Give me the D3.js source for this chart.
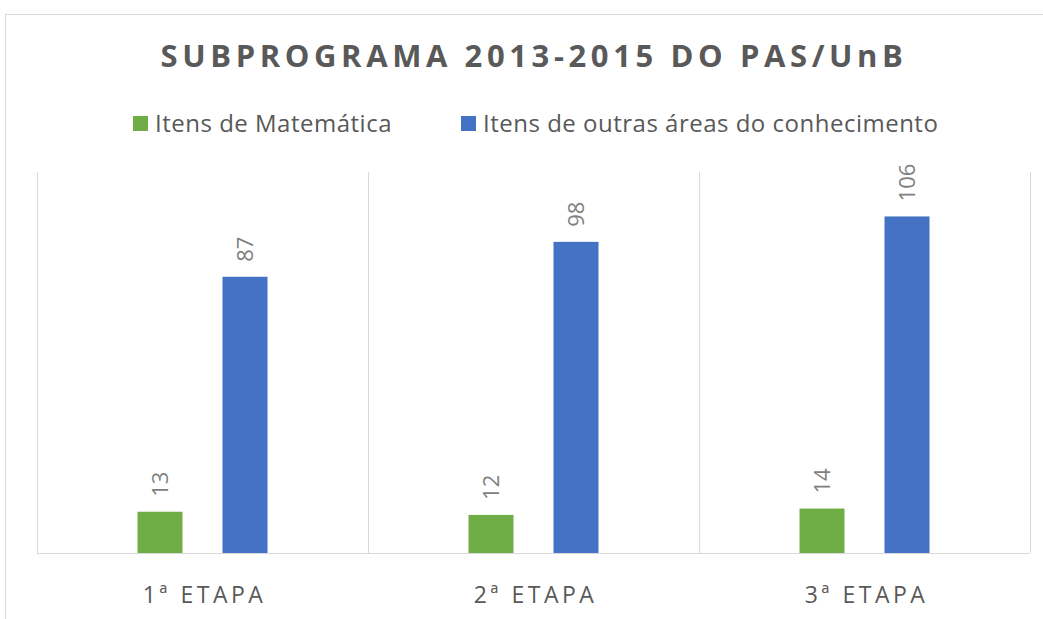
<!DOCTYPE html>
<html>
<head>
<meta charset="utf-8">
<script src="https://cdn.jsdelivr.net/npm/d3@7"></script>
<style>
  body { margin:0; background:#fff; }
  text { font-family: "Open Sans", "DejaVu Sans", sans-serif; }
</style>
</head>
<body>
<svg id="chart"></svg>
<script>
// data
var etapas = ["1ª ETAPA", "2ª ETAPA", "3ª ETAPA"]
var series = ["Itens de Matemática", "Itens de outras áreas do conhecimento"]
var matematica = [13, 12, 14]
var outras = [87, 98, 106]
var cores = ["#70ad47", "#4472c4"]
var titulo = "SUBPROGRAMA 2013-2015 DO PAS/UnB"

var screen = {width:1043, height:619}
var margins = {left:37, right:13, top:172, bottom:66}

var svg = d3.select("#chart")
    .attr("width", screen.width)
    .attr("height", screen.height)

// chart area border
svg.append("rect")
   .attr("x", 5.5).attr("y", 14.5)
   .attr("width", 1060).attr("height", 620)
   .attr("fill", "none")
   .attr("stroke", "#d9d9d9")

var xScale = d3.scaleBand()
    .domain(etapas)
    .range([margins.left, screen.width - margins.right])

var inner = d3.scaleBand()
    .domain(series)
    .range([xScale.bandwidth()/2 - 65, xScale.bandwidth()/2 + 65])
    .paddingInner(40/85)

var yScale = d3.scaleLinear()
    .domain([0, 120])
    .range([screen.height - margins.bottom, margins.top])

// vertical separators between categories
var bordas = etapas.map(function(e){ return xScale(e) })
bordas.push(xScale.range()[1])
svg.append("g")
   .selectAll("line")
   .data(bordas)
   .enter()
   .append("line")
   .attr("x1", function(d){ return Math.round(d) + 0.5 })
   .attr("x2", function(d){ return Math.round(d) + 0.5 })
   .attr("y1", yScale(120))
   .attr("y2", yScale(0))
   .attr("stroke", "#d9d9d9")

// bars
var dados = etapas.map(function(e, i) {
    return {etapa:e, valores:[
        {serie:series[0], valor:matematica[i], cor:cores[0]},
        {serie:series[1], valor:outras[i], cor:cores[1]}
    ]}
})

var grupos = svg.append("g")
   .selectAll("g")
   .data(dados)
   .enter()
   .append("g")
   .attr("transform", function(d){ return "translate(" + xScale(d.etapa) + ",0)" })

grupos.selectAll("rect")
   .data(function(d){ return d.valores })
   .enter()
   .append("rect")
   .attr("x", function(d){ return inner(d.serie) })
   .attr("width", inner.bandwidth())
   .attr("y", function(d){ return yScale(d.valor) })
   .attr("height", function(d){ return yScale(0) - yScale(d.valor) })
   .attr("fill", function(d){ return d.cor })

// value labels, rotated
grupos.selectAll("text")
   .data(function(d){ return d.valores })
   .enter()
   .append("text")
   .text(function(d){ return d.valor })
   .attr("transform", function(d) {
       return "translate(" + (inner(d.serie) + inner.bandwidth()/2 + 8) + "," + (yScale(d.valor) - 15) + ") rotate(-90)"
   })
   .attr("text-anchor", "start")
   .attr("font-size", 22)
   .attr("fill", "#7f7f7f")

// baseline
svg.append("line")
   .attr("x1", margins.left).attr("x2", screen.width - margins.right)
   .attr("y1", yScale(0) + 0.5).attr("y2", yScale(0) + 0.5)
   .attr("stroke", "#d9d9d9")

// category labels
svg.append("g")
   .selectAll("text")
   .data(etapas)
   .enter()
   .append("text")
   .text(function(d){ return d })
   .attr("x", function(d){ return xScale(d) + xScale.bandwidth()/2 + 2 })
   .attr("y", 603)
   .attr("text-anchor", "middle")
   .attr("font-size", 23)
   .attr("letter-spacing", 3.5)
   .attr("fill", "#595959")

// title
svg.append("text")
   .text(titulo)
   .attr("x", 534)
   .attr("y", 67)
   .attr("text-anchor", "middle")
   .attr("font-size", 31)
   .attr("font-weight", "bold")
   .attr("letter-spacing", 4.6)
   .attr("fill", "#595959")

// legend
var legendX = [133, 461]
var legend = svg.append("g")
   .selectAll("g")
   .data(series)
   .enter()
   .append("g")
   .attr("transform", function(d, i){ return "translate(" + legendX[i] + ",116)" })

legend.append("rect")
   .attr("width", 15).attr("height", 15)
   .attr("fill", function(d, i){ return cores[i] })

legend.append("text")
   .text(function(d){ return d })
   .attr("x", 22)
   .attr("y", 16)
   .attr("font-size", 24)
   .attr("letter-spacing", 0.5)
   .attr("fill", "#595959")
</script>
</body>
</html>
